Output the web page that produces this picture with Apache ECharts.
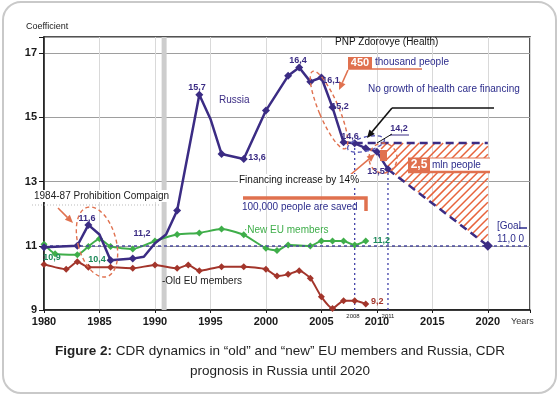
<!DOCTYPE html>
<html>
<head>
<meta charset="utf-8">
<script src="https://cdn.jsdelivr.net/npm/echarts@6/dist/echarts.min.js"></script>
<style>
  html, body { margin: 0; padding: 0; background: #ffffff; }
  #main { width: 560px; height: 396px; }
</style>
</head>
<body>
<div id="main"></div>
<script>
// --- data ---
const russiaYears = [1980, 1983, 1984, 1985, 1986, 1988, 1989, 1990, 1991, 1992, 1994, 1995, 1996, 1998, 2000, 2002, 2003, 2004, 2005, 2006, 2007, 2008, 2009, 2010, 2011];
const russiaCdr = [10.95, 11.0, 11.65, 11.35, 10.55, 10.6, 10.66, 11.08, 11.35, 12.1, 15.7, 14.95, 13.86, 13.7, 15.21, 16.29, 16.55, 16.11, 16.24, 15.31, 14.22, 14.19, 14.04, 13.93, 13.38];
const russiaMarked = [1980, 1983, 1984, 1986, 1988, 1992, 1994, 1996, 1998, 2000, 2002, 2003, 2004, 2005, 2006, 2007, 2008, 2009, 2010, 2011];

const newEuYears = [1980, 1981, 1983, 1984, 1985, 1986, 1988, 1990, 1992, 1994, 1996, 1998, 2000, 2001, 2002, 2004, 2005, 2006, 2007, 2008, 2009];
const newEuCdr = [11.05, 10.75, 10.72, 10.98, 11.22, 10.98, 10.9, 11.15, 11.35, 11.4, 11.52, 11.34, 10.92, 10.85, 11.02, 10.99, 11.15, 11.15, 11.15, 11.02, 11.15];

const oldEuYears = [1980, 1982, 1983, 1984, 1986, 1988, 1990, 1992, 1993, 1994, 1996, 1998, 2000, 2001, 2002, 2003, 2004, 2005, 2006, 2007, 2008, 2009];
const oldEuCdr = [10.42, 10.27, 10.5, 10.33, 10.33, 10.3, 10.4, 10.3, 10.4, 10.22, 10.35, 10.35, 10.27, 10.06, 10.11, 10.22, 9.99, 9.41, 9.05, 9.29, 9.29, 9.19];

// prognosis 2011 -> goal 2020, and the "no growth" plateau
const prognosisYears = [2011, 2020];
const prognosisCdr = [13.38, 11.0];
const plateauYears = [2008, 2020];
const plateauCdr = [14.2, 14.2];

// hatched gap between plateau and prognosis
const hatchYears = [2010.2, 2020, 2020, 2011];
const hatchCdr = [14.2, 14.2, 11.0, 13.38];

const xTicks = [1980, 1985, 1990, 1995, 2000, 2005, 2010, 2015, 2020];
const yTicks = [9, 11, 13, 15, 17];

const INDIGO = '#3b2c84';
const GREEN = '#3fae4a';
const RED = '#a3352b';
const SALMON = '#e0714f';
const NAVY = '#2d2d8c';
const FONT = '"Liberation Sans", Arial, sans-serif';

function pairs(xs, ys) { return xs.map((x, i) => [x, ys[i]]); }

function arrow(x1, y1, x2, y2, color, w) {
  const a = Math.atan2(y2 - y1, x2 - x1), L = 8, h = 3.5;
  const bx = x2 - L * Math.cos(a), by = y2 - L * Math.sin(a);
  return [
    { type: 'line', z: 100, shape: { x1, y1, x2: bx, y2: by }, style: { stroke: color, lineWidth: w } },
    { type: 'polygon', z: 100, shape: { points: [[x2, y2], [bx + h * Math.sin(a), by - h * Math.cos(a)], [bx - h * Math.sin(a), by + h * Math.cos(a)]] }, style: { fill: color } }
  ];
}
function txt(x, y, text, color, size, bold, extra) {
  return { type: 'text', z: 110, x, y, style: Object.assign({ text, fill: color, fontSize: size, fontWeight: bold ? 'bold' : 'normal', fontFamily: FONT, verticalAlign: 'middle' }, extra || {}) };
}
function ellipse(cx, cy, rx, ry, rot, color) {
  return { type: 'ellipse', z: 95, x: cx, y: cy, rotation: rot, shape: { cx: 0, cy: 0, rx, ry }, style: { fill: 'none', stroke: color, lineWidth: 1.4, lineDash: [4, 3] } };
}

// clip a hatch line to a convex polygon; returns [p, q] or null
function clipToPolygon(a, b, poly) {
  let t0 = 0, t1 = 1;
  const d = [b[0] - a[0], b[1] - a[1]];
  let area = 0;
  for (let i = 0; i < poly.length; i++) {
    const p = poly[i], q = poly[(i + 1) % poly.length];
    area += p[0] * q[1] - q[0] * p[1];
  }
  const s = area > 0 ? 1 : -1;
  for (let i = 0; i < poly.length; i++) {
    const p = poly[i], q = poly[(i + 1) % poly.length];
    const e = [q[0] - p[0], q[1] - p[1]];
    const n = [-e[1] * s, e[0] * s];
    const num = n[0] * (a[0] - p[0]) + n[1] * (a[1] - p[1]);
    const den = n[0] * d[0] + n[1] * d[1];
    if (Math.abs(den) < 1e-9) { if (num < 0) return null; continue; }
    const t = -num / den;
    if (den > 0) t0 = Math.max(t0, t); else t1 = Math.min(t1, t);
    if (t0 > t1) return null;
  }
  return [[a[0] + d[0] * t0, a[1] + d[1] * t0], [a[0] + d[0] * t1, a[1] + d[1] * t1]];
}

const chart = echarts.init(document.getElementById('main'));

const graphics = [
  { type: 'rect', z: 0, shape: { x: 3, y: 2, width: 553, height: 391, r: 18 }, style: { fill: 'none', stroke: '#c9c9c9', lineWidth: 2 } },
  txt(26, 27, 'Coefficient', '#222', 9, false),
  txt(511, 322, 'Years', '#333', 9, false),
  txt(353, 316, '2008', '#222', 6, false, { align: 'center' }),
  txt(388, 316, '2011', '#222', 6, false, { align: 'center' }),

  // prohibition
  txt(32, 196, '1984-87 Prohibition Compaign', '#222', 10, false, { backgroundColor: '#fff', padding: [1, 2] }),
  { type: 'line', z: 100, shape: { x1: 32, y1: 205, x2: 160, y2: 205 }, style: { stroke: '#bbb', lineWidth: 1, lineDash: [1, 2] } },
  ...arrow(58, 208, 73, 223, SALMON, 1.6),
  ellipse(97, 242, 19, 36, 0.27, SALMON),

  // series labels
  txt(219, 100, 'Russia', INDIGO, 10, false),
  txt(244, 230, '·New EU members', GREEN, 10, false),
  txt(162, 281, '-Old EU members', '#222', 10, false),

  // value labels
  txt(87, 219, '11,6', INDIGO, 9, true, { align: 'center' }),
  txt(142, 234, '11,2', INDIGO, 9, true, { align: 'center' }),
  txt(52, 258, '10,9', '#1d8a5a', 9, true, { align: 'center' }),
  txt(97, 260, '10,4', '#1d8a5a', 9, true, { align: 'center' }),
  txt(197, 88, '15,7', INDIGO, 9, true, { align: 'center' }),
  txt(257, 158, '13,6', INDIGO, 9, true, { align: 'center' }),
  txt(298, 61, '16,4', INDIGO, 9, true, { align: 'center' }),
  txt(331, 81, '16,1', INDIGO, 9, true, { align: 'center' }),
  txt(340, 107, '15,2', INDIGO, 9, true, { align: 'center' }),
  txt(350, 137, '14,6', INDIGO, 9, true, { align: 'center' }),
  txt(399, 129, '14,2', INDIGO, 9, true, { align: 'center' }),
  { type: 'line', z: 100, shape: { x1: 390, y1: 135, x2: 409, y2: 135 }, style: { stroke: INDIGO, lineWidth: 1 } },
  { type: 'line', z: 100, shape: { x1: 392, y1: 134, x2: 377, y2: 143 }, style: { stroke: '#111', lineWidth: 1 } },
  txt(376, 172, '13,5', INDIGO, 9, true, { align: 'center' }),
  txt(373, 241, '11,2', '#1d8a5a', 9, true),
  txt(371, 302, '9,2', RED, 9, true),

  // top strip
  txt(335, 42, 'PNP Zdorovye (Health)', '#111', 10, false),
  { type: 'rect', z: 100, shape: { x: 348, y: 57, width: 24, height: 12 }, style: { fill: SALMON } },
  txt(360, 63, '450', '#fff', 11, true, { align: 'center' }),
  txt(375, 62, 'thousand people', NAVY, 10, false),
  { type: 'line', z: 100, shape: { x1: 348, y1: 69, x2: 422, y2: 69 }, style: { stroke: SALMON, lineWidth: 1.5 } },
  ...arrow(348, 70, 339, 90, SALMON, 1.6),
  ellipse(329, 110, 10, 42, 0.4, SALMON),

  txt(368, 89, 'No growth of health care financing', NAVY, 10, false),
  { type: 'line', z: 100, shape: { x1: 392, y1: 108, x2: 494, y2: 108 }, style: { stroke: '#111', lineWidth: 1.6 } },
  ...arrow(392, 108, 367, 138, '#111', 1.6),
  ellipse(366, 144, 19, 7, 0.25, '#5a5ab8'),
  ellipse(383, 158, 14, 15, 0, SALMON),
  { type: 'rect', z: 99, shape: { x: 380, y: 150, width: 7, height: 11 }, style: { fill: SALMON } },

  // 2,5 mln people
  { type: 'rect', z: 100, shape: { x: 408, y: 158, width: 82, height: 14 }, style: { fill: '#fff' } },
  { type: 'rect', z: 100, shape: { x: 408, y: 158, width: 22, height: 14 }, style: { fill: SALMON } },
  txt(419, 165, '2,5', '#fff', 12, true, { align: 'center' }),
  txt(432, 165, 'mln people', NAVY, 10, false),
  { type: 'line', z: 100, shape: { x1: 408, y1: 158, x2: 490, y2: 158 }, style: { stroke: SALMON, lineWidth: 1 } },
  { type: 'line', z: 100, shape: { x1: 408, y1: 172, x2: 490, y2: 172 }, style: { stroke: SALMON, lineWidth: 2.5 } },

  // financing
  txt(238, 180, 'Financing increase by 14%', '#111', 10, false, { backgroundColor: '#fff', padding: [1, 1] }),
  ...arrow(343, 181, 375, 154, SALMON, 1.6),
  { type: 'polyline', z: 100, shape: { points: [[243, 198], [366, 198], [366, 211]] }, style: { stroke: SALMON, lineWidth: 3.5, fill: 'none' } },
  txt(242, 207, '100,000 people are saved', NAVY, 10, false),

  // goal
  txt(497, 226, '[Goal', NAVY, 10, false),
  { type: 'line', z: 100, shape: { x1: 519, y1: 228, x2: 527, y2: 228 }, style: { stroke: NAVY, lineWidth: 1.5 } },
  txt(497, 239, '11,0 0', NAVY, 10, false),

  // caption
  { type: 'text', z: 110, x: 280, y: 341, style: { text: '{b|Figure 2:} CDR dynamics in \u201Cold\u201D and \u201Cnew\u201D EU members and Russia, CDR\nprognosis in Russia until 2020', rich: { b: { fontWeight: 'bold', fontSize: 13.5, fontFamily: FONT, fill: '#222' } }, fill: '#222', fontSize: 13.5, fontFamily: FONT, align: 'center', lineHeight: 20 } }
];

const option = {
  animation: false,
  backgroundColor: '#ffffff',
  grid: { left: 44, right: 30, top: 37, bottom: 86, show: true, borderColor: '#1a1a1a', borderWidth: 1.5, backgroundColor: 'transparent' },
  xAxis: {
    type: 'value', min: 1980, max: 2023.8, interval: 5,
    axisLine: { lineStyle: { color: '#1a1a1a', width: 1.5 } },
    axisTick: { show: true, length: 3, lineStyle: { color: '#1a1a1a' } },
    axisLabel: { color: '#1a1a1a', fontWeight: 'bold', fontSize: 11, fontFamily: FONT, margin: 6, formatter: v => (xTicks.includes(v) ? String(v) : '') },
    splitLine: { show: true, lineStyle: { color: '#d9d9d9', width: 1 } }
  },
  yAxis: {
    type: 'value', min: 9, max: 17.5, interval: 2,
    axisLine: { show: true, lineStyle: { color: '#1a1a1a', width: 1.5 } },
    axisTick: { show: true, length: 5, lineStyle: { color: '#1a1a1a' } },
    axisLabel: { color: '#1a1a1a', fontWeight: 'bold', fontSize: 11, fontFamily: FONT, margin: 7, formatter: v => (yTicks.includes(v) ? String(v) : '') },
    splitLine: { show: true, lineStyle: { color: '#9e9e9e', width: 1 } }
  },
  graphic: graphics,
  series: [
    {
      name: 'Old EU members', type: 'line', z: 3, smooth: 0.2,
      data: pairs(oldEuYears, oldEuCdr),
      symbol: 'diamond', symbolSize: 7,
      lineStyle: { color: RED, width: 2 }, itemStyle: { color: RED },
      markArea: { silent: true, itemStyle: { color: '#cdcdcd' }, data: [[{ xAxis: 1990.6 }, { xAxis: 1991.05 }]] },
      markLine: {
        silent: true, symbol: 'none', label: { show: false },
        lineStyle: { color: '#4a4aa0', width: 1.6, type: [3, 3] },
        data: [{ yAxis: 11 }]
      }
    },
    {
      name: 'New EU members', type: 'line', z: 4, smooth: 0.2,
      data: pairs(newEuYears, newEuCdr),
      symbol: 'diamond', symbolSize: 7,
      lineStyle: { color: GREEN, width: 2 }, itemStyle: { color: GREEN }
    },
    {
      name: 'guide 2008', type: 'line', z: 2, symbol: 'none',
      data: [[2008, 9], [2008, plateauCdr[0]]],
      lineStyle: { color: '#4040a8', width: 1.3, type: [2, 3] }
    },
    {
      name: 'guide 2011', type: 'line', z: 2, symbol: 'none',
      data: [[2011, 9], [2011, prognosisCdr[0]]],
      lineStyle: { color: '#4040a8', width: 1.3, type: [2, 3] }
    },
    {
      name: 'plateau', type: 'line', z: 5, symbol: 'none',
      data: pairs(plateauYears, plateauCdr),
      lineStyle: { color: INDIGO, width: 2.5, type: [8, 5] }
    },
    {
      name: 'prognosis', type: 'line', z: 5,
      data: pairs(prognosisYears, prognosisCdr).map((p, i) => ({ value: p, symbolSize: i === 0 ? 0 : 10 })),
      symbol: 'diamond',
      lineStyle: { color: INDIGO, width: 2.5, type: [8, 5] }, itemStyle: { color: INDIGO }
    },
    {
      name: 'Russia', type: 'line', z: 6,
      data: pairs(russiaYears, russiaCdr).map(p => ({ value: p, symbolSize: russiaMarked.includes(p[0]) ? 8 : 0 })),
      symbol: 'diamond',
      lineStyle: { color: INDIGO, width: 2.5 }, itemStyle: { color: INDIGO }
    }
  ]
};

chart.setOption(option);

// hatch: salmon "/" strokes inside the gap, placed through the chart's own scales
const poly = hatchYears.map((x, i) => chart.convertToPixel({ gridIndex: 0 }, [x, hatchCdr[i]]));
const xs = poly.map(p => p[0]), ys = poly.map(p => p[1]);
const bx0 = Math.min(...xs), bx1 = Math.max(...xs), by0 = Math.min(...ys), by1 = Math.max(...ys);
const hh = by1 - by0;
const hatch = [];
for (let k = bx0 - hh; k <= bx1; k += 8) {
  const seg = clipToPolygon([k, by1], [k + hh, by0], poly);
  if (seg) hatch.push({ type: 'line', z: 1, silent: true, shape: { x1: seg[0][0], y1: seg[0][1], x2: seg[1][0], y2: seg[1][1] }, style: { stroke: '#e8643c', lineWidth: 1.5 } });
}
chart.setOption({ graphic: graphics.concat(hatch) });
</script>
</body>
</html>
